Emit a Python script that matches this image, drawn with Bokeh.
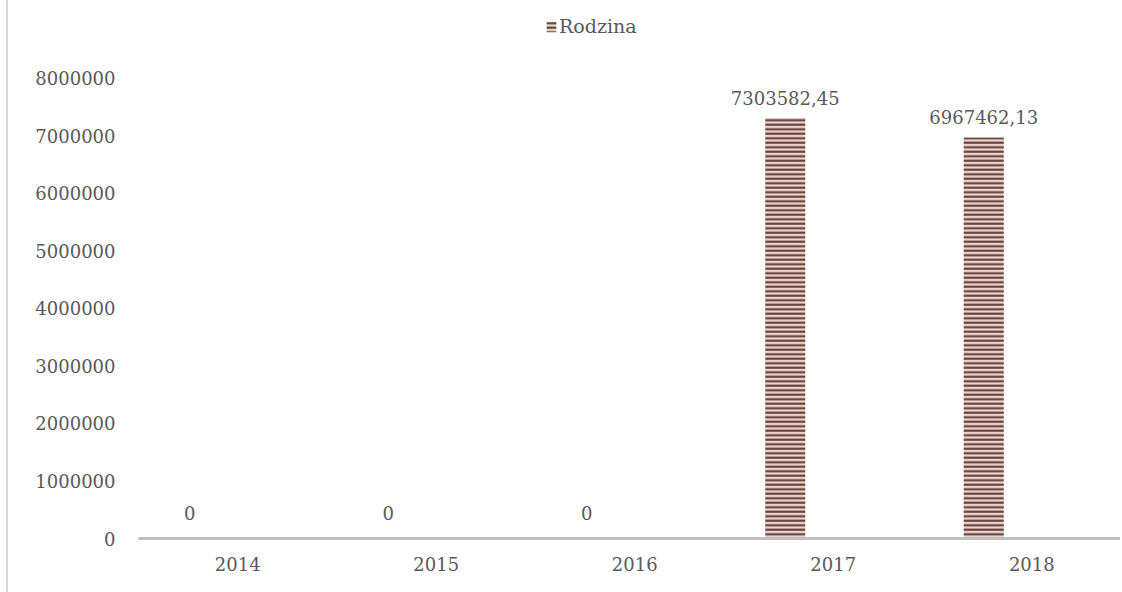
from bokeh.plotting import figure
from bokeh.models import (ColumnDataSource, Range1d, FixedTicker, LabelSet,
                          Legend, LegendItem)
from bokeh.core.properties import value
from bokeh.transform import dodge
from bokeh.embed import file_html
from bokeh.resources import INLINE

# ---- data ----
years = ["2014", "2015", "2016", "2017", "2018"]
values = [0, 0, 0, 7303582.45, 6967462.13]
value_labels = ["0", "0", "0", "7303582,45", "6967462,13"]
y_ticks = [0, 1000000, 2000000, 3000000, 4000000, 5000000, 6000000, 7000000, 8000000]
series_name = "Rodzina"

FONT = "DejaVu Serif"
TXT = "#595959"

xs = [i + 0.5 for i in range(len(years))]
src = ColumnDataSource(dict(x=xs, value=values, label=value_labels))
nz = [i for i, v in enumerate(values) if v != 0]
z = [i for i, v in enumerate(values) if v == 0]
src_nz = ColumnDataSource(dict(x=[xs[i] for i in nz], value=[values[i] for i in nz],
                               label=[value_labels[i] for i in nz]))
src_z = ColumnDataSource(dict(x=[xs[i] for i in z], value=[values[i] for i in z],
                              label=[value_labels[i] for i in z]))

p = figure(width=1114, height=592, output_backend="svg", toolbar_location=None,
           x_range=Range1d(0, 4.957), y_range=Range1d(0, 9347000),
           min_border_left=130, min_border_right=0, min_border_top=0,
           min_border_bottom=54)
p.styles = {"border-left": "2px solid #d9d9d9", "margin-left": "6px"}
p.outline_line_color = None
p.xgrid.grid_line_color = None
p.ygrid.grid_line_color = None
p.background_fill_color = "white"
p.border_fill_color = "white"

OFF = -0.242
bars = p.vbar(x=dodge("x", OFF, range=p.x_range), top="value", bottom=0, width=0.2015,
              source=src, fill_color="#ecd2ca", line_color=None,
              hatch_pattern="horizontal_line", hatch_color="#5a3833",
              hatch_scale=4.5, hatch_weight=2.0)

# axes
xa = p.xaxis[0]
xa.ticker = FixedTicker(ticks=xs)
xa.major_label_overrides = {x: y for x, y in zip(xs, years)}
xa.axis_line_color = "#bfbfbf"
xa.axis_line_width = 3
xa.major_tick_line_color = None
xa.minor_tick_line_color = None
xa.major_tick_in = 0
xa.major_tick_out = 0
xa.major_label_standoff = 18
xa.major_label_text_font = FONT
xa.major_label_text_font_size = "18px"
xa.major_label_text_color = TXT

ya = p.yaxis[0]
ya.ticker = FixedTicker(ticks=y_ticks)
ya.major_label_overrides = {t: str(t) for t in y_ticks}
ya.axis_line_color = None
ya.major_tick_line_color = None
ya.minor_tick_line_color = None
ya.major_tick_in = 0
ya.major_tick_out = 0
ya.major_label_standoff = 23
ya.major_label_text_font = FONT
ya.major_label_text_font_size = "18px"
ya.major_label_text_color = TXT

# data labels
for s, off in ((src_nz, 13), (src_z, 19)):
    p.add_layout(LabelSet(x=dodge("x", OFF, range=p.x_range), y="value", text="label",
                          source=s, text_align="center", text_baseline="alphabetic",
                          y_offset=off, text_font=value(FONT),
                          text_font_size=value("18px"), text_color=TXT))

legend = Legend(items=[LegendItem(label=series_name, renderers=[bars])],
                location=(407, 501), orientation="horizontal",
                border_line_color=None, background_fill_alpha=0,
                padding=0, margin=0, spacing=0,
                glyph_width=12, glyph_height=13, label_height=13,
                label_standoff=2, label_text_font=FONT,
                label_text_font_size="19px", label_text_color=TXT)
p.add_layout(legend)

open("out.html", "w").write(file_html(p, INLINE))
